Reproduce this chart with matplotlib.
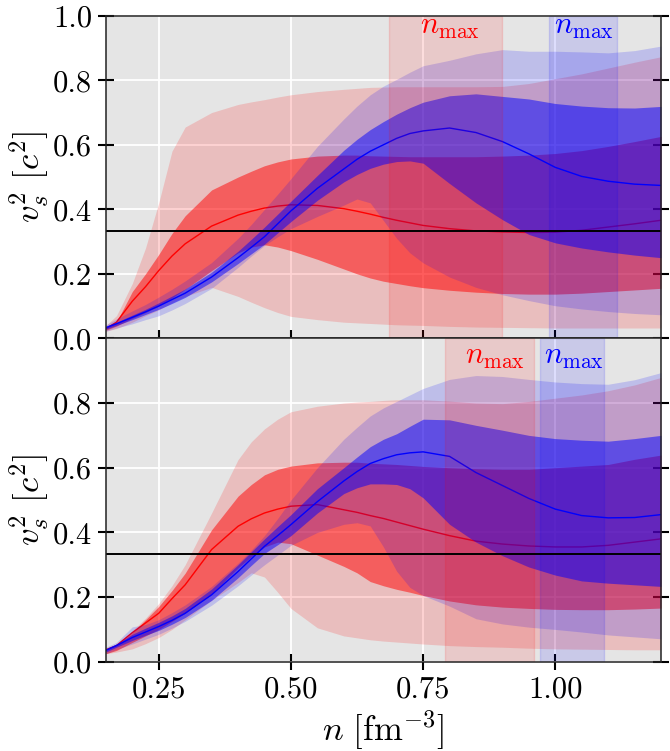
import matplotlib
matplotlib.use("Agg")
import matplotlib.pyplot as plt
import numpy as np

plt.rcParams['mathtext.fontset'] = 'cm'
plt.rcParams['font.family'] = 'serif'
plt.rcParams['font.serif'] = ['cmr10']
plt.rcParams['axes.formatter.use_mathtext'] = True

# density grid [fm^-3]
n_grid = [0.15, 0.17, 0.2, 0.225, 0.25, 0.275, 0.3, 0.35, 0.4, 0.425, 0.45, 0.475, 0.5,
          0.55, 0.6, 0.625, 0.65, 0.675, 0.7, 0.725, 0.75, 0.8, 0.85, 0.9, 0.95, 1.0,
          1.05, 1.1, 1.15, 1.2]

# ---------------- top panel ----------------
top_red_95_hi = [0.04, 0.07, 0.17, 0.28, 0.42, 0.58, 0.655, 0.70, 0.725, 0.733, 0.74, 0.748, 0.755,
                 0.765, 0.772, 0.775, 0.778, 0.779, 0.78, 0.78, 0.78, 0.78, 0.78, 0.781, 0.79, 0.805,
                 0.82, 0.838, 0.856, 0.873]
top_red_95_lo = [0.022, 0.03, 0.05, 0.07, 0.088, 0.11, 0.13, 0.158, 0.13, 0.112, 0.095, 0.08, 0.068,
                 0.058, 0.05, 0.048, 0.046, 0.044, 0.042, 0.041, 0.04, 0.037, 0.035, 0.034, 0.033, 0.032,
                 0.032, 0.032, 0.032, 0.032]
top_red_68_hi = [0.035, 0.05, 0.145, 0.2, 0.26, 0.325, 0.38, 0.46, 0.5, 0.518, 0.535, 0.547, 0.556,
                 0.565, 0.568, 0.568, 0.566, 0.565, 0.564, 0.563, 0.563, 0.563, 0.563, 0.565, 0.568, 0.573,
                 0.582, 0.595, 0.61, 0.626]
top_red_med = [0.03, 0.05, 0.115, 0.16, 0.21, 0.255, 0.293, 0.348, 0.382, 0.394, 0.404, 0.41, 0.414,
               0.412, 0.402, 0.394, 0.385, 0.375, 0.366, 0.358, 0.35, 0.34, 0.333, 0.33, 0.328, 0.329,
               0.335, 0.345, 0.355, 0.366]
top_red_68_lo = [0.025, 0.038, 0.062, 0.08, 0.1, 0.125, 0.152, 0.21, 0.265, 0.283, 0.29, 0.283, 0.272,
                 0.245, 0.215, 0.2, 0.187, 0.177, 0.17, 0.163, 0.157, 0.149, 0.143, 0.139, 0.137, 0.137,
                 0.14, 0.145, 0.15, 0.155]
top_blue_med = [0.033, 0.045, 0.065, 0.082, 0.1, 0.12, 0.14, 0.19, 0.25, 0.282, 0.315, 0.355, 0.395,
                0.465, 0.525, 0.555, 0.58, 0.6, 0.62, 0.635, 0.643, 0.652, 0.638, 0.61, 0.572, 0.53,
                0.502, 0.487, 0.478, 0.474]
top_blue_68_hi = [0.038, 0.05, 0.072, 0.09, 0.11, 0.131, 0.153, 0.205, 0.27, 0.307, 0.345, 0.385, 0.425,
                  0.505, 0.583, 0.617, 0.647, 0.672, 0.695, 0.715, 0.732, 0.752, 0.758, 0.75, 0.742, 0.728,
                  0.72, 0.715, 0.714, 0.719]
top_blue_68_lo = [0.028, 0.04, 0.058, 0.074, 0.09, 0.108, 0.127, 0.175, 0.232, 0.262, 0.292, 0.327, 0.362,
                  0.428, 0.485, 0.508, 0.527, 0.54, 0.548, 0.55, 0.543, 0.48, 0.42, 0.368, 0.322, 0.296,
                  0.28, 0.268, 0.258, 0.25]
top_blue_95_hi = [0.042, 0.06, 0.085, 0.105, 0.128, 0.152, 0.178, 0.235, 0.31, 0.353, 0.4, 0.447, 0.495,
                  0.595, 0.68, 0.72, 0.755, 0.782, 0.803, 0.825, 0.845, 0.862, 0.882, 0.895, 0.89, 0.89,
                  0.888, 0.885, 0.892, 0.906]
top_blue_95_lo = [0.022, 0.032, 0.045, 0.058, 0.07, 0.088, 0.108, 0.155, 0.22, 0.255, 0.288, 0.315, 0.34,
                  0.378, 0.413, 0.432, 0.42, 0.365, 0.31, 0.265, 0.234, 0.19, 0.158, 0.135, 0.117, 0.101,
                  0.091, 0.083, 0.077, 0.073]

# ---------------- bottom panel ----------------
bot_red_95_hi = [0.042, 0.055, 0.096, 0.135, 0.18, 0.235, 0.3, 0.46, 0.625, 0.68, 0.72, 0.75, 0.773,
                 0.79, 0.8, 0.803, 0.805, 0.808, 0.81, 0.81, 0.81, 0.806, 0.8, 0.798, 0.805, 0.815,
                 0.825, 0.838, 0.856, 0.879]
bot_red_95_lo = [0.025, 0.03, 0.04, 0.056, 0.075, 0.1, 0.13, 0.19, 0.245, 0.275, 0.262, 0.215, 0.165,
                 0.105, 0.08, 0.074, 0.068, 0.064, 0.061, 0.058, 0.055, 0.05, 0.047, 0.045, 0.042, 0.04,
                 0.039, 0.038, 0.037, 0.037]
bot_red_68_hi = [0.035, 0.05, 0.09, 0.13, 0.171, 0.22, 0.274, 0.408, 0.512, 0.548, 0.578, 0.595, 0.605,
                 0.615, 0.617, 0.617, 0.614, 0.612, 0.61, 0.607, 0.604, 0.6, 0.597, 0.595, 0.595, 0.6,
                 0.605, 0.61, 0.626, 0.639]
bot_red_med = [0.037, 0.05, 0.09, 0.12, 0.15, 0.195, 0.238, 0.347, 0.419, 0.442, 0.46, 0.472, 0.481,
               0.486, 0.47, 0.462, 0.452, 0.443, 0.432, 0.421, 0.41, 0.39, 0.373, 0.364, 0.358, 0.355,
               0.355, 0.36, 0.37, 0.38]
bot_red_68_lo = [0.025, 0.035, 0.06, 0.08, 0.1, 0.125, 0.15, 0.21, 0.29, 0.325, 0.355, 0.37, 0.365,
                 0.33, 0.295, 0.275, 0.248, 0.235, 0.224, 0.215, 0.205, 0.188, 0.176, 0.169, 0.165, 0.162,
                 0.161, 0.161, 0.163, 0.166]
bot_blue_med = [0.035, 0.05, 0.075, 0.092, 0.109, 0.128, 0.15, 0.207, 0.279, 0.318, 0.357, 0.39, 0.424,
                0.495, 0.559, 0.588, 0.613, 0.628, 0.64, 0.646, 0.649, 0.635, 0.585, 0.545, 0.505, 0.472,
                0.452, 0.445, 0.446, 0.455]
bot_blue_68_hi = [0.04, 0.055, 0.085, 0.104, 0.122, 0.142, 0.165, 0.225, 0.3, 0.34, 0.38, 0.418, 0.455,
                  0.535, 0.6, 0.633, 0.665, 0.688, 0.705, 0.728, 0.75, 0.748, 0.731, 0.716, 0.7, 0.69,
                  0.685, 0.682, 0.69, 0.7]
bot_blue_68_lo = [0.03, 0.045, 0.066, 0.082, 0.097, 0.116, 0.137, 0.19, 0.26, 0.298, 0.335, 0.362, 0.39,
                  0.46, 0.52, 0.538, 0.55, 0.55, 0.548, 0.535, 0.507, 0.425, 0.37, 0.328, 0.293, 0.268,
                  0.25, 0.243, 0.238, 0.233]
bot_blue_95_hi = [0.045, 0.06, 0.108, 0.115, 0.13, 0.152, 0.176, 0.233, 0.305, 0.345, 0.39, 0.443, 0.5,
                  0.6, 0.688, 0.725, 0.76, 0.785, 0.805, 0.825, 0.845, 0.873, 0.885, 0.882, 0.873, 0.865,
                  0.86, 0.858, 0.872, 0.894]
bot_blue_95_lo = [0.025, 0.038, 0.055, 0.07, 0.085, 0.104, 0.125, 0.175, 0.235, 0.268, 0.3, 0.33, 0.36,
                  0.4, 0.425, 0.43, 0.42, 0.355, 0.28, 0.23, 0.205, 0.172, 0.133, 0.117, 0.107, 0.1,
                  0.092, 0.083, 0.077, 0.071]

# n_max ranges (red, blue) per panel
top_nmax_red = (0.685, 0.899)
top_nmax_blue = (0.988, 1.117)
bot_nmax_red = (0.791, 0.959)
bot_nmax_blue = (0.972, 1.093)

conformal = 1.0 / 3.0
x_ticks = [0.25, 0.50, 0.75, 1.00]
x_tick_labels = ['0.25', '0.50', '0.75', '1.00']
top_y_ticks = [0.0, 0.2, 0.4, 0.6, 0.8, 1.0]
bot_y_ticks = [0.0, 0.2, 0.4, 0.6, 0.8]

fig = plt.figure(figsize=(6.7, 7.51), dpi=100)
ax_top = fig.add_axes([0.158, 0.5495, 0.8286, 0.4295])
ax_bot = fig.add_axes([0.158, 0.1188, 0.8286, 0.4307])

FS_TICK = 22
FS_LAB = 25
FS_TXT = 22


def draw_panel(ax, rl_hi, rl_lo, rd_hi, rmed, rd_lo, bmed, bd_hi, bd_lo, bl_hi, bl_lo,
               span_r, span_b, txt_r, txt_b, yticks, show_x):
    ax.set_facecolor('#e5e5e5')
    ax.grid(True, color='white', lw=1.3, zorder=0)
    ax.set_axisbelow(True)
    ax.fill_between(n_grid, rl_lo, rl_hi, color='red', alpha=0.17, lw=0, zorder=1)
    ax.fill_between(n_grid, rd_lo, rd_hi, color='red', alpha=0.5, lw=0, zorder=2)
    ax.plot(n_grid, rmed, color='red', lw=1.0, zorder=3)
    ax.fill_between(n_grid, bl_lo, bl_hi, color='blue', alpha=0.17, lw=0, zorder=4)
    ax.fill_between(n_grid, bd_lo, bd_hi, color='blue', alpha=0.5, lw=0, zorder=5)
    ax.plot(n_grid, bmed, color='blue', lw=1.0, zorder=6)
    ax.axvspan(span_r[0], span_r[1], color='red', alpha=0.12, zorder=7)
    ax.axvspan(span_b[0], span_b[1], color='blue', alpha=0.12, zorder=7)
    ax.axhline(conformal, color='black', lw=1.4, zorder=8)
    ax.text(txt_r[0], txt_r[1], r'$n_{\rm max}$', color='red', fontsize=FS_TXT,
            ha='center', va='center', zorder=9)
    ax.text(txt_b[0], txt_b[1], r'$n_{\rm max}$', color='blue', fontsize=FS_TXT,
            ha='center', va='center', zorder=9)
    ax.set_xlim(0.15, 1.2)
    ax.set_ylim(0.0, 1.0)
    ax.set_xticks(x_ticks)
    ax.set_yticks(yticks)
    ax.set_yticklabels(['%.1f' % t for t in yticks])
    if show_x:
        ax.set_xticklabels(x_tick_labels)
        ax.set_xlabel(r'$n\ [\mathrm{fm}^{-3}]$', fontsize=FS_LAB, labelpad=4)
    else:
        ax.set_xticklabels([])
    ax.set_ylabel(r'$v_s^2\ [c^2]$', fontsize=FS_LAB, labelpad=1)
    ax.tick_params(axis='both', which='major', direction='inout', length=12, width=1.5,
                   labelsize=FS_TICK, right=True, top=False, color='black', pad=4)
    for s in ax.spines.values():
        s.set_color('#222222')
        s.set_linewidth(1.1)
        s.set_zorder(10)


draw_panel(ax_top, top_red_95_hi, top_red_95_lo, top_red_68_hi, top_red_med, top_red_68_lo,
           top_blue_med, top_blue_68_hi, top_blue_68_lo, top_blue_95_hi, top_blue_95_lo,
           top_nmax_red, top_nmax_blue, (0.80, 0.963), (1.054, 0.963), top_y_ticks, False)
draw_panel(ax_bot, bot_red_95_hi, bot_red_95_lo, bot_red_68_hi, bot_red_med, bot_red_68_lo,
           bot_blue_med, bot_blue_68_hi, bot_blue_68_lo, bot_blue_95_hi, bot_blue_95_lo,
           bot_nmax_red, bot_nmax_blue, (0.885, 0.94), (1.036, 0.94), bot_y_ticks, True)

fig.savefig('out.png', dpi=100)
